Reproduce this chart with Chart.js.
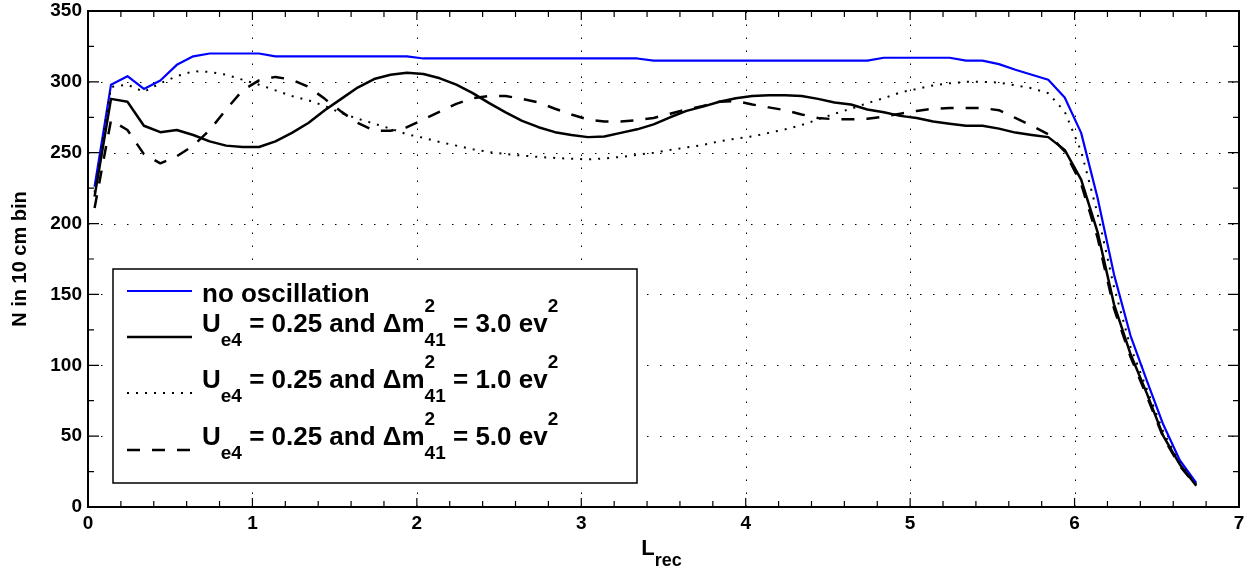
<!DOCTYPE html>
<html>
<head>
<meta charset="utf-8">
<script src="https://cdn.jsdelivr.net/npm/chart.js@4.4.1/dist/chart.umd.min.js"></script>
<style>
  html, body { margin: 0; padding: 0; background: #fff; }
  #wrap { width: 1249px; height: 577px; position: relative; }
</style>
</head>
<body>
<div id="wrap"><canvas id="spectrumChart"></canvas></div>
<script>
// bin centres of the reconstructed length (m)
const lRec = [0.04, 0.14, 0.24, 0.34, 0.44, 0.54, 0.64, 0.74, 0.84, 0.94,
  1.04, 1.14, 1.24, 1.34, 1.44, 1.54, 1.64, 1.74, 1.84, 1.94,
  2.04, 2.14, 2.24, 2.34, 2.44, 2.54, 2.64, 2.74, 2.84, 2.94,
  3.04, 3.14, 3.24, 3.34, 3.44, 3.54, 3.64, 3.74, 3.84, 3.94,
  4.04, 4.14, 4.24, 4.34, 4.44, 4.54, 4.64, 4.74, 4.84, 4.94,
  5.04, 5.14, 5.24, 5.34, 5.44, 5.54, 5.64, 5.74, 5.84, 5.94,
  6.04, 6.14, 6.24, 6.34, 6.44, 6.54, 6.64, 6.74];

const noOscillation = [226, 298, 304, 295, 301, 312, 318, 320, 320, 320,
  320, 318, 318, 318, 318, 318, 318, 318, 318, 318,
  316.5, 316.5, 316.5, 316.5, 316.5, 316.5, 316.5, 316.5, 316.5, 316.5,
  316.5, 316.5, 316.5, 316.5, 315, 315, 315, 315, 315, 315,
  315, 315, 315, 315, 315, 315, 315, 315, 317, 317,
  317, 317, 317, 315, 315, 312.5, 308.5, 305, 301.5, 289,
  264, 218, 164, 121, 89, 58, 33, 17];

const osc3 = [219, 288, 286, 269, 264.5, 266, 262.5, 258, 255, 254,
  254, 258, 264, 271, 280, 288, 296, 302, 305, 306.5,
  305.5, 302.5, 298, 292, 285, 278.5, 272.5, 268, 264.5, 262.5,
  261, 261.5, 264, 266.5, 270, 275, 279.5, 282.5, 286, 288.5,
  290, 290.6, 290.6, 290, 288, 285.5, 284, 280.5, 278.5, 276,
  274.5, 272, 270.5, 269, 269, 267, 264.2, 262.5, 261, 252,
  231, 194, 143, 108, 80, 50, 30, 15];

const osc1 = [222, 296.5, 298, 293, 299, 304, 307.5, 307, 305, 301.5,
  298, 294, 290, 287, 283, 278, 274, 270.5, 267, 263,
  260.5, 257.5, 255, 252.5, 250.5, 249, 248, 247, 246.3, 245.7,
  245.3, 246, 247, 248.5, 250, 252, 253.7, 255.5, 258, 260,
  261.5, 264, 266.5, 269.5, 273.5, 277.5, 281, 285, 288.5, 292.5,
  295, 297.5, 299, 300, 300, 299.5, 297.5, 295.5, 292, 279,
  251, 207, 155, 113, 83, 53, 31, 16];

const osc5 = [211, 273, 266, 249, 242.5, 247.5, 255, 266, 280.5, 294,
  301, 303.5, 301.5, 296.5, 288, 279, 271, 265.5, 265.5, 268,
  273.5, 279, 284.5, 288.5, 290, 290, 288, 285.5, 281, 277,
  273.5, 272, 272, 273, 274.5, 277.5, 280.5, 283, 286, 286.5,
  284, 282, 280, 277, 274.5, 273.6, 273.6, 274, 275.5, 277.5,
  279.5, 281, 281.5, 281.6, 281.5, 280, 274.5, 269, 263, 251,
  228, 190, 140, 106, 78, 49, 29, 15];

const xTicks = [0, 1, 2, 3, 4, 5, 6, 7];
const yTicks = [0, 50, 100, 150, 200, 250, 300, 350];

const legendRows = [
  { main: "no oscillation" },
  { mix: "0.25", dm: "3.0" },
  { mix: "0.25", dm: "1.0" },
  { mix: "0.25", dm: "5.0" }
];

const FONT = "'Liberation Sans', Arial, Helvetica, sans-serif";

function toPoints(values) {
  return values.map((v, i) => ({ x: lRec[i], y: v }));
}

// dotted grid, inward tick marks and the box, matlab style
const matlabAxes = {
  id: "matlabAxes",
  beforeDatasetsDraw(chart) {
    const { ctx, chartArea: a, scales } = chart;
    ctx.save();
    ctx.strokeStyle = "#000";
    ctx.lineWidth = 1;
    ctx.setLineDash([1.5, 11.5]);
    xTicks.forEach(v => {
      if (v === xTicks[0] || v === xTicks[xTicks.length - 1]) return;
      const px = Math.round(scales.x.getPixelForValue(v)) + 0.5;
      ctx.beginPath(); ctx.moveTo(px, a.bottom); ctx.lineTo(px, a.top); ctx.stroke();
    });
    yTicks.forEach(v => {
      if (v === yTicks[0] || v === yTicks[yTicks.length - 1]) return;
      const py = Math.round(scales.y.getPixelForValue(v)) + 0.5;
      ctx.beginPath(); ctx.moveTo(a.left, py); ctx.lineTo(a.right, py); ctx.stroke();
    });
    ctx.restore();
  },
  afterDraw(chart) {
    const { ctx, chartArea: a, scales } = chart;
    ctx.save();
    ctx.strokeStyle = "#000";
    ctx.lineWidth = 1.2;
    ctx.setLineDash([]);
    // x ticks, majors and minors every 0.2
    for (let k = 0; k <= 35; k++) {
      const v = k * 0.2;
      const major = k % 5 === 0;
      const len = major ? 9 : 6;
      const px = scales.x.getPixelForValue(v);
      ctx.beginPath();
      ctx.moveTo(px, a.bottom); ctx.lineTo(px, a.bottom - len);
      ctx.moveTo(px, a.top); ctx.lineTo(px, a.top + len);
      ctx.stroke();
    }
    for (let k = 0; k <= 14; k++) {
      const v = k * 25;
      const major = k % 2 === 0;
      const len = major ? 11 : 6;
      const py = scales.y.getPixelForValue(v);
      ctx.beginPath();
      ctx.moveTo(a.left, py); ctx.lineTo(a.left + len, py);
      ctx.moveTo(a.right, py); ctx.lineTo(a.right - len, py);
      ctx.stroke();
    }
    ctx.lineWidth = 2;
    ctx.strokeRect(a.left, a.top, a.right - a.left, a.bottom - a.top);

    // x axis title with subscript
    ctx.fillStyle = "#000";
    ctx.textBaseline = "alphabetic";
    ctx.font = "bold 22px " + FONT;
    const wL = ctx.measureText("L").width;
    ctx.font = "bold 18px " + FONT;
    const wSub = ctx.measureText("rec").width;
    const cx = (a.left + a.right) / 2 - 2;
    const x0 = cx - (wL + wSub) / 2;
    ctx.font = "bold 22px " + FONT;
    ctx.fillText("L", x0, a.bottom + 48);
    ctx.font = "bold 18px " + FONT;
    ctx.fillText("rec", x0 + wL, a.bottom + 59);

    // legend
    const box = { left: a.left + 25, top: a.top + 258, right: a.left + 549, bottom: a.top + 472 };
    ctx.fillStyle = "#fff";
    ctx.fillRect(box.left, box.top, box.right - box.left, box.bottom - box.top);
    ctx.lineWidth = 1.5;
    ctx.strokeRect(box.left, box.top, box.right - box.left, box.bottom - box.top);

    const baselines = [box.top + 33, box.top + 63, box.top + 119, box.top + 176];
    const lineYs = [box.top + 22, box.top + 68, box.top + 124, box.top + 181];
    const datasets = chart.data.datasets;
    legendRows.forEach((row, i) => {
      const ds = datasets[i];
      ctx.save();
      ctx.strokeStyle = ds.borderColor;
      ctx.lineWidth = ds.borderWidth;
      ctx.setLineDash(ds.borderDash || []);
      ctx.beginPath();
      ctx.moveTo(box.left + 14, lineYs[i]);
      ctx.lineTo(box.left + 79, lineYs[i]);
      ctx.stroke();
      ctx.restore();

      const b = baselines[i];
      let x = box.left + 89;
      ctx.fillStyle = "#000";
      const big = "bold 26px " + FONT;
      const small = "bold 19px " + FONT;
      const put = (t, font, dy) => {
        ctx.font = font;
        ctx.fillText(t, x, b + dy);
        x += ctx.measureText(t).width;
      };
      if (row.main) {
        put(row.main, big, 0);
        return;
      }
      put("U", big, 0);
      put("e4", small, 14);
      put(" = " + row.mix + " and \u0394m", big, 0);
      ctx.font = small;
      ctx.fillText("2", x, b - 20);
      const wSup = ctx.measureText("2").width;
      ctx.fillText("41", x, b + 14);
      x += Math.max(wSup, ctx.measureText("41").width);
      put(" = " + row.dm + " ev", big, 0);
      put("2", small, -20);
    });
    ctx.restore();
  }
};

const ctx = document.getElementById("spectrumChart").getContext("2d");

new Chart(ctx, {
  type: "line",
  data: {
    datasets: [
      {
        label: "no oscillation",
        data: toPoints(noOscillation),
        borderColor: "#0000ff",
        borderWidth: 2.2,
        order: 4
      },
      {
        label: "Ue4 = 0.25 and \u0394m41^2 = 3.0 ev^2",
        data: toPoints(osc3),
        borderColor: "#000",
        borderWidth: 2.5,
        order: 3
      },
      {
        label: "Ue4 = 0.25 and \u0394m41^2 = 1.0 ev^2",
        data: toPoints(osc1),
        borderColor: "#000",
        borderWidth: 2,
        borderDash: [2, 7],
        order: 2
      },
      {
        label: "Ue4 = 0.25 and \u0394m41^2 = 5.0 ev^2",
        data: toPoints(osc5),
        borderColor: "#000",
        borderWidth: 2.5,
        borderDash: [13, 12],
        order: 1
      }
    ]
  },
  options: {
    responsive: true,
    maintainAspectRatio: false,
    animation: false,
    events: [],
    elements: {
      point: { radius: 0 },
      line: { tension: 0, borderCapStyle: "butt", borderJoinStyle: "round" }
    },
    layout: { padding: { top: 11, right: 10, left: 0, bottom: 0 } },
    plugins: {
      legend: { display: false },
      tooltip: { enabled: false },
      title: { display: false }
    },
    scales: {
      x: {
        type: "linear",
        min: xTicks[0],
        max: xTicks[xTicks.length - 1],
        afterFit: s => { s.height = 70; s.paddingLeft = 0; s.paddingRight = 0; },
        afterBuildTicks: s => { s.ticks = xTicks.map(v => ({ value: v })); },
        grid: { display: false, drawTicks: false },
        border: { display: false },
        ticks: {
          padding: 5,
          color: "#000",
          font: { family: FONT, size: 19, weight: "bold" },
          maxRotation: 0
        }
      },
      y: {
        min: yTicks[0],
        max: yTicks[yTicks.length - 1],
        afterFit: s => { s.width = 88; s.paddingTop = 0; s.paddingBottom = 0; },
        afterBuildTicks: s => { s.ticks = yTicks.map(v => ({ value: v })); },
        grid: { display: false, drawTicks: false },
        border: { display: false },
        title: {
          display: true,
          text: "N in 10 cm bin",
          color: "#000",
          font: { family: FONT, size: 20, weight: "bold" },
          padding: { top: 8, bottom: 0 }
        },
        ticks: {
          padding: 6,
          color: "#000",
          font: { family: FONT, size: 19, weight: "bold" }
        }
      }
    }
  },
  plugins: [matlabAxes]
});
</script>
</body>
</html>
